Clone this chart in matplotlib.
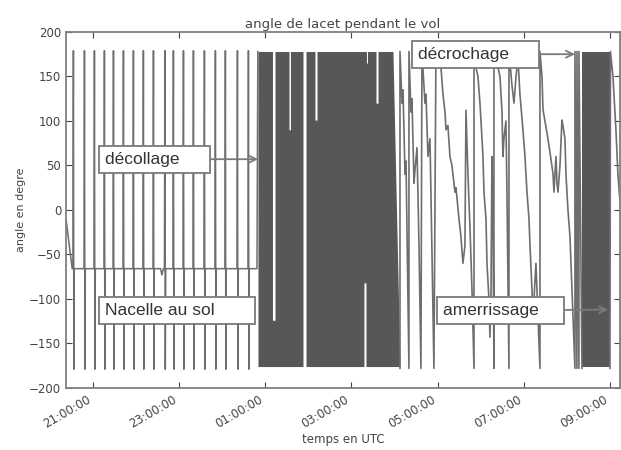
import numpy as np
import matplotlib
matplotlib.use("Agg")
import matplotlib.pyplot as plt
import matplotlib.dates as mdates

# all times are minutes after 21:00 UTC (first day), angles in degrees
T0 = np.datetime64("2015-08-20T21:00")

# nacelle on the ground: resting heading plus periodic full-turn glitches
ground_t = [-37.6, -29.0, 94.0, 96.0, 98.0, 228.4, 229.6]
ground_deg = [-10, -66, -66, -73, -66, -66, 178]
spike_t = [-27.9, -12.5, 1.4, 15.3, 27.9, 41.8, 55.7, 69.6, 83.6, 99.5,
           111.4, 125.4, 139.3, 154.6, 169.9, 183.8, 200.6, 215.9]
GROUND = -66

# first fast-spinning phase (drawn as an envelope, min / max per instant)
dense1_t = [229.8, 250.0, 250.0, 253.5, 253.5, 273.0, 273.0, 275.0, 275.0,
            292.5, 292.5, 296.7, 296.7, 309.2, 309.2, 312.0, 312.0, 377.4,
            377.4, 380.2, 380.2, 380.9, 380.9, 382.3, 382.3, 394.2, 394.2,
            397.0, 397.0, 417.8, 427.6]
dense1_lo = [-176, -176, -176, -176, -176, -176, -176, -176, -176,
             -176, -176, -176, -176, -176, -176, -176, -176, -176,
             -82, -82, -176, -176, -176, -176, -176, -176, -176,
             -176, -176, -176, -176]
dense1_hi = [178, 178, -124, -124, 178, 178, 90, 90, 178,
             178, -176, -176, 178, 178, 101, 101, 178, 178,
             178, 178, 178, 178, 165, 165, 178, 178, 120,
             120, 178, 178, -176]

# slow rotation after the stall
slow_t = [427.6, 427.6, 430.4, 431.8, 434.6, 436.0, 440.1,
          440.1, 442.9, 444.3, 447.1, 448.5, 451.3, 454.1, 456.8,
          458.2, 462.4, 463.8, 466.6, 469.4, 472.2, 474.9,
          477.7, 481.9, 484.7, 487.5, 490.3, 491.7, 494.4, 497.2, 500.0,
          504.2, 505.6, 509.8, 512.5, 515.3, 518.1, 519.5, 522.3, 525.1,
          527.9, 530.7,
          530.7, 533.4, 536.2, 539.0, 540.4, 543.2, 544.6, 547.4, 548.8,
          551.5, 552.9, 554.3, 555.7, 557.1, 558.5,
          558.5, 562.7, 566.9, 569.7, 571.0, 572.4, 575.2, 576.6, 579.4,
          579.4, 583.6, 586.4, 589.2, 592.0, 594.7, 598.9, 601.7, 604.5,
          607.3, 608.7, 611.5, 612.8, 615.6, 617.0, 619.8, 622.6,
          622.6, 625.4, 626.8, 629.5, 633.7, 636.5, 640.7, 642.1, 644.9,
          646.3, 647.7, 650.5, 653.2, 654.6, 657.4, 658.8, 661.6, 664.4,
          665.8, 668.6, 671.3,
          671.3, 674.1, 674.1, 676.9, 676.9, 681.1]
slow_deg = [-178, 178, 120, 135, 40, 55, -178,
            178, 110, 125, 30, 45, 70, -40, -178,
            178, 120, 130, 60, 80, -50, -178,
            178, 175, 160, 130, 110, 90, 95, 60, 50,
            20, 25, -10, -30, -60, -40, 112, 40, -20,
            -90, -178,
            178, 160, 150, 120, 101, 60, 20, -10, -60,
            -100, -143, -100, 60, -10, -178,
            178, 165, 150, 110, 60, 80, 100, 20, -178,
            178, 140, 120, 150, 170, 130, 90, 60, 20,
            -10, -40, -90, -124, -80, -60, -120, -178,
            178, 150, 113, 100, 80, 65, 41, 20, 60,
            30, 20, 50, 101, 95, 80, 40, 0, -30,
            -60, -120, -178,
            178, -178, 178, -178, 178, -178]

# second fast-spinning phase
dense2_t = [681.1, 720.1]
dense2_lo = [-176, -176]
dense2_hi = [178, 178]

# after splash-down
end_t = [720.1, 720.8, 724.3, 728.4, 731.2, 734.0]
end_deg = [-178, 178, 150, 90, 40, 10]

x_min, x_max = -37.6, 734.0


def at(minutes):
    m = np.asarray(minutes, dtype=float)
    return T0 + np.round(m * 60).astype("timedelta64[s]")


pts = list(zip(ground_t, ground_deg))
for t in spike_t:
    pts += [(t, GROUND), (t + 0.6, 179), (t + 1.2, -179), (t + 1.8, GROUND)]
pts.sort(key=lambda p: p[0])
g_t, g_deg = zip(*pts)

line_c = "#6e6e6e"
fill_c = "#575757"
text_c = "#444444"
edge_c = "#7a7a7a"

fig = plt.figure(figsize=(6.21, 4.5), dpi=100)
ax = fig.add_axes([0.1063, 0.138, 0.892, 0.791])

ax.fill_between(at(dense1_t), dense1_lo, dense1_hi, color=fill_c, lw=0)
ax.fill_between(at(dense2_t), dense2_lo, dense2_hi, color=fill_c, lw=0)
ax.plot(at(g_t), g_deg, color=line_c, lw=1.1)
ax.plot(at(slow_t), slow_deg, color=line_c, lw=1.2)
ax.plot(at(end_t), end_deg, color=line_c, lw=1.2)

ax.set_xlim(at(x_min), at(x_max))
ax.set_ylim(-200, 200)
ax.set_yticks(range(-200, 201, 50))
ax.xaxis.set_major_locator(mdates.HourLocator(byhour=range(1, 24, 2)))
ax.xaxis.set_major_formatter(mdates.DateFormatter("%H:%M:%S"))
for lab in ax.get_xticklabels():
    lab.set_rotation(30)
    lab.set_ha("right")

ax.tick_params(direction="in", length=4, top=True, right=True,
               labelsize=8.5, colors=text_c)
for sp in ax.spines.values():
    sp.set_color("#808080")
    sp.set_linewidth(1.3)

ax.set_title("angle de lacet pendant le vol", fontsize=9.5, color=text_c, pad=3)
ax.set_xlabel("temps en UTC", fontsize=8.5, color=text_c, labelpad=2)
ax.set_ylabel("angle en degre", fontsize=8, color=text_c, labelpad=2)

box = dict(boxstyle="square,pad=0.35", fc="white", ec=edge_c, lw=1.3)
arrow = dict(arrowstyle="->", color=edge_c, lw=1.3, shrinkA=0, shrinkB=0)
font = dict(family="Liberation Sans", fontsize=12.5, color="#333333",
            ha="left", va="center")

ax.annotate("décollage     ", xy=(at(229.8), 57), xytext=(at(16.7), 57),
            bbox=box, arrowprops=arrow, **font)
ax.text(at(16.7), -113, "Nacelle au sol       ", bbox=box, **font)
ax.annotate("décrochage     ", xy=(at(671.3), 175), xytext=(at(452.7), 175),
            bbox=box, arrowprops=arrow, **font)
ax.annotate("amerrissage    ", xy=(at(717.3), -112), xytext=(at(487.5), -113),
            bbox=box, arrowprops=arrow, **font)

fig.savefig("out.png", dpi=100, facecolor="white")
